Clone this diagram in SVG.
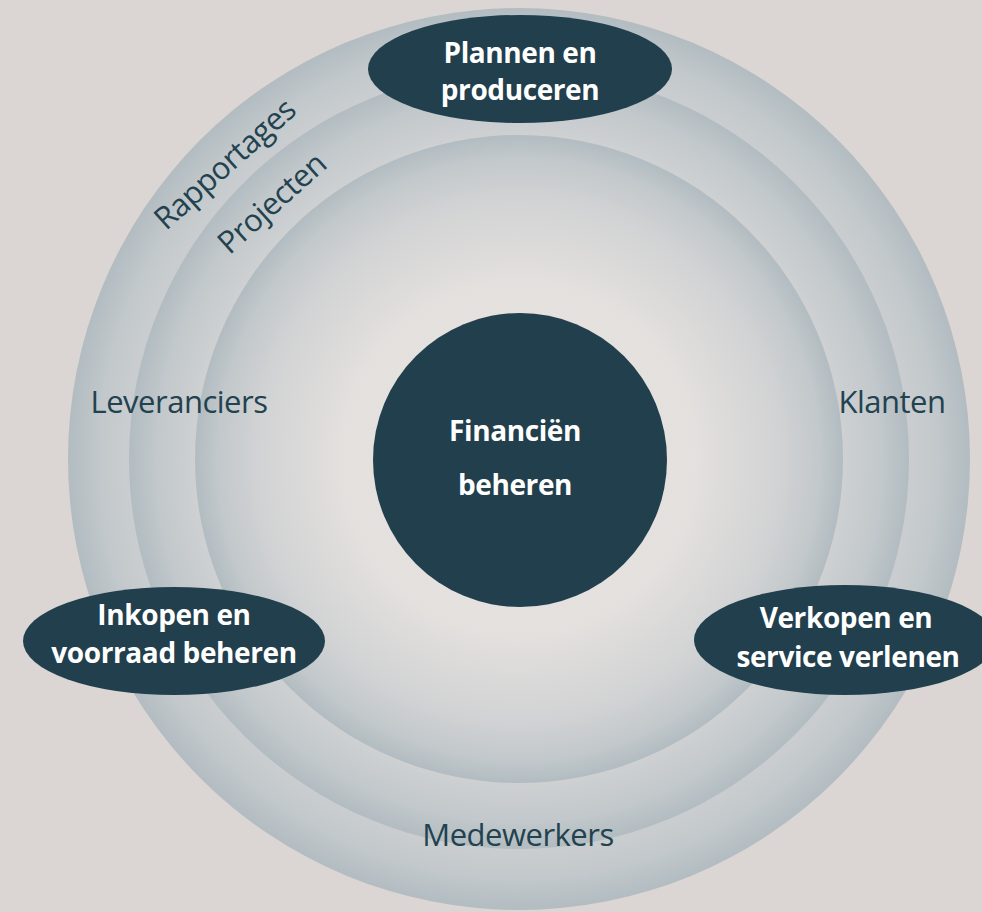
<svg xmlns="http://www.w3.org/2000/svg" width="982" height="912" viewBox="0 0 982 912">
  <defs>
    <radialGradient id="ringGrad" cx="0.5" cy="0.5" r="0.5">
      <stop offset="0" stop-color="#e8e4e2"/>
      <stop offset="0.55" stop-color="#e3e0de"/>
      <stop offset="0.8" stop-color="#d2d3d4"/>
      <stop offset="0.93" stop-color="#c2c8cb"/>
      <stop offset="1" stop-color="#b2bcc1"/>
    </radialGradient>
    <style>
      .ring { fill: url(#ringGrad); }
      .node { fill: #213f4d; }
      .nodeText { font-family: "Open Sans", "Noto Sans", sans-serif; font-weight: bold; font-size: 28px; letter-spacing: -0.4px; fill: #ffffff; text-anchor: middle; }
      .label { font-family: "Open Sans", "Noto Sans", sans-serif; font-size: 31px; letter-spacing: -0.5px; fill: #22424f; text-anchor: middle; }
    </style>
  </defs>
  <rect x="0" y="0" width="982" height="912" fill="#dbd6d3"/>
  <g id="rings">
    <circle class="ring" cx="519" cy="459" r="451"/>
    <circle class="ring" cx="519" cy="459" r="390"/>
    <circle class="ring" cx="519" cy="459" r="324"/>
  </g>
  <g id="ring-labels">
    <text class="label" transform="translate(232,172) rotate(-42)">Rapportages</text>
    <text class="label" transform="translate(279,211) rotate(-42)">Projecten</text>
    <text class="label" x="179" y="413">Leveranciers</text>
    <text class="label" x="892" y="413">Klanten</text>
    <text class="label" x="518" y="846">Medewerkers</text>
  </g>
  <g id="connectors"></g>
  <g id="node-financien">
    <circle class="node" cx="520" cy="460" r="147"/>
    <text class="nodeText" x="515" y="441">Financiën</text>
    <text class="nodeText" x="515" y="495">beheren</text>
  </g>
  <g id="node-plannen">
    <ellipse class="node" cx="520" cy="69" rx="152" ry="54"/>
    <text class="nodeText" x="520" y="63">Plannen en</text>
    <text class="nodeText" x="520" y="100">produceren</text>
  </g>
  <g id="node-inkopen">
    <ellipse class="node" cx="174" cy="641" rx="151" ry="54"/>
    <text class="nodeText" x="174" y="625">Inkopen en</text>
    <text class="nodeText" x="174" y="663">voorraad beheren</text>
  </g>
  <g id="node-verkopen">
    <ellipse class="node" cx="845" cy="640" rx="151" ry="55"/>
    <text class="nodeText" x="846" y="628">Verkopen en</text>
    <text class="nodeText" x="848" y="667">service verlenen</text>
  </g>
</svg>
